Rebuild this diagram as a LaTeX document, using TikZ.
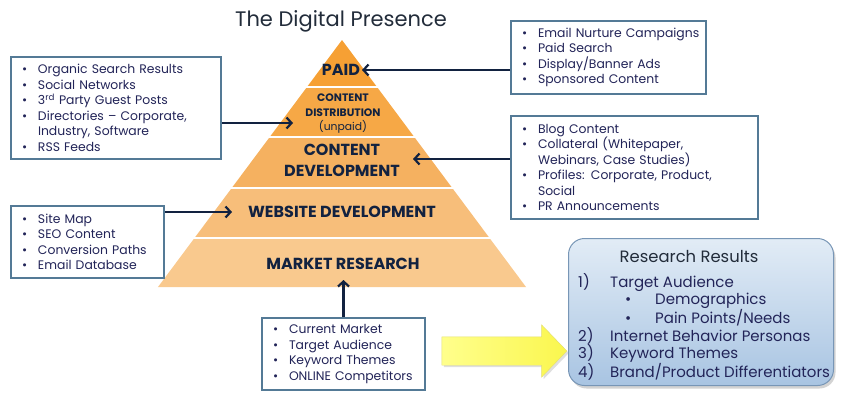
\documentclass[tikz,border=0pt]{standalone}
\usepackage{fontspec}
\setmainfont{Poppins}
\usetikzlibrary{arrows.meta, positioning, shapes.arrows, shadows}
\definecolor{navy}{RGB}{18,34,64}
\definecolor{titlec}{RGB}{34,44,58}
\definecolor{boxline}{RGB}{84,122,150}
\definecolor{listtext}{RGB}{34,36,88}
\definecolor{paidc}{RGB}{246,160,52}
\definecolor{distc}{RGB}{246,168,70}
\definecolor{devc}{RGB}{245,177,96}
\definecolor{webc}{RGB}{247,190,122}
\definecolor{mktc}{RGB}{249,201,142}
\newcommand{\bitem}[1]{\mbox{\makebox[16pt][l]{\textbullet}#1}}
\newcommand{\bmore}[1]{\mbox{\hspace*{16pt}#1}}
\tikzset{
    x=1pt, y=-1pt, % one unit per pixel, y going down
    >={Straight Barb[length=5pt,width=11pt]}, % open arrow heads
    listbox/.style={draw=boxline, line width=2pt, fill=white, anchor=north west, align=left,
        inner xsep=11pt, inner ysep=0pt, text=listtext, font=\fontsize{12.4}{15.5}\selectfont},
    layer/.style={text=navy, font=\bfseries\fontsize{16}{21}\selectfont, align=center},
    feed/.style={->, draw=navy, line width=2.2pt}, % arrows into the pyramid
    resbox/.style={draw={rgb,255:red,120;green,150;blue,182}, line width=1pt, rounded corners=16pt,
        top color={rgb,255:red,226;green,236;blue,246}, bottom color={rgb,255:red,168;green,196;blue,226},
        anchor=north west, minimum width=265pt, minimum height=147pt,
        drop shadow={opacity=0.35, shadow xshift=2pt, shadow yshift=-3pt}},
    yarrow/.style={single arrow, draw={rgb,255:red,228;green,224;blue,110}, inner xsep=0pt, inner ysep=14pt,
        left color={rgb,255:red,255;green,255;blue,140}, right color={rgb,255:red,250;green,246;blue,78},
        minimum height=125pt, single arrow head extend=12pt, single arrow tip angle=92,
        drop shadow={opacity=0.25, shadow xshift=2pt, shadow yshift=-2pt}},
}
\begin{document}
\begin{tikzpicture}
\useasboundingbox (0,0) rectangle (842,405);
% pyramid layers
\foreach \ya/\yb/\col in {40/87/paidc, 87/137/distc, 137/188/devc, 188/238/webc, 238/287/mktc}
    \fill[\col] ({342-(\ya-40)*0.745},\ya) -- ({342+(\ya-40)*0.745},\ya)
        -- ({342+(\yb-40)*0.745},\yb) -- ({342-(\yb-40)*0.745},\yb) -- cycle;
\foreach \y in {87,137,188,238}
    \draw[white, line width=2.5pt] ({340-(\y-40)*0.745},\y) -- ({344+(\y-40)*0.745},\y);

\node[font=\fontsize{21}{24}\selectfont, text=titlec] (title) at (341,21) {The Digital Presence};
\node[layer] (paid) at (341,70) {PAID};
\node[layer, font=\bfseries\fontsize{10.8}{14.5}\selectfont] (dist) at (343,114) {CONTENT\\DISTRIBUTION\\{\mdseries (unpaid)}};
\node[layer] (dev) at (342,160) {CONTENT\\DEVELOPMENT};
\node[layer] (web) at (342,212) {WEBSITE DEVELOPMENT};
\node[layer] (mkt) at (343,264) {MARKET RESEARCH};

\node[listbox, text width=188pt, minimum height=102pt] (organic) at (10,56)
    {\bitem{Organic Search Results}\\ \bitem{Social Networks}\\ \bitem{3\textsuperscript{rd} Party Guest Posts}\\
     \bitem{Directories – Corporate,}\\ \bmore{Industry, Software}\\ \bitem{RSS Feeds}};
\node[listbox, text width=173pt, minimum height=73pt] (paidlist) at (510,20)
    {\bitem{Email Nurture Campaigns}\\ \bitem{Paid Search}\\ \bitem{Display/Banner Ads}\\ \bitem{Sponsored Content}};
\node[listbox, text width=225pt, minimum height=103pt] (contentlist) at (510,115)
    {\bitem{Blog Content}\\ \bitem{Collateral (Whitepaper,}\\ \bmore{Webinars, Case Studies)}\\
     \bitem{Profiles: Corporate, Product,}\\ \bmore{Social}\\ \bitem{PR Announcements}};
\node[listbox, text width=131pt, minimum height=72pt] (sitelist) at (10,205)
    {\bitem{Site Map}\\ \bitem{SEO Content}\\ \bitem{Conversion Paths}\\ \bitem{Email Database}};
\node[listbox, text width=141pt, minimum height=72pt] (marketlist) at (261,317)
    {\bitem{Current Market}\\ \bitem{Target Audience}\\ \bitem{Keyword Themes}\\ \bitem{ONLINE Competitors}};

\coordinate (paidin) at (362,70);
\coordinate (distin) at (293,123);
\coordinate (devin) at (413,159);
\coordinate (webin) at (232,212);
\coordinate (mktin) at (343,280);
\draw[feed] (paidlist.west |- paidin) -- (paidin);
\draw[feed] (organic.east |- distin) -- (distin);
\draw[feed] (contentlist.west |- devin) -- (devin);
\draw[feed] (sitelist.east |- webin) -- (webin);
\draw[feed] (marketlist.north) -- (marketlist.north |- mktin);

\node[yarrow] (push) at (497.5,351) {};
\node[resbox] (results) at (568,238) {};
\node[font=\fontsize{16.4}{18}\selectfont, text=titlec] (restitle) at (689,256) {Research Results};
\node[anchor=north west, align=left, inner sep=0pt, text=listtext, font=\fontsize{15}{17.4}\selectfont] (reslist) at (578,273)
    {\makebox[32pt][l]{1)}Target Audience\\
     \hspace*{47pt}\makebox[30pt][l]{\textbullet}Demographics\\
     \hspace*{47pt}\makebox[30pt][l]{\textbullet}Pain Points/Needs\\
     \makebox[32pt][l]{2)}Internet Behavior Personas\\
     \makebox[32pt][l]{3)}Keyword Themes\\
     \makebox[32pt][l]{4)}Brand/Product Differentiators};
\end{tikzpicture}
\end{document}
